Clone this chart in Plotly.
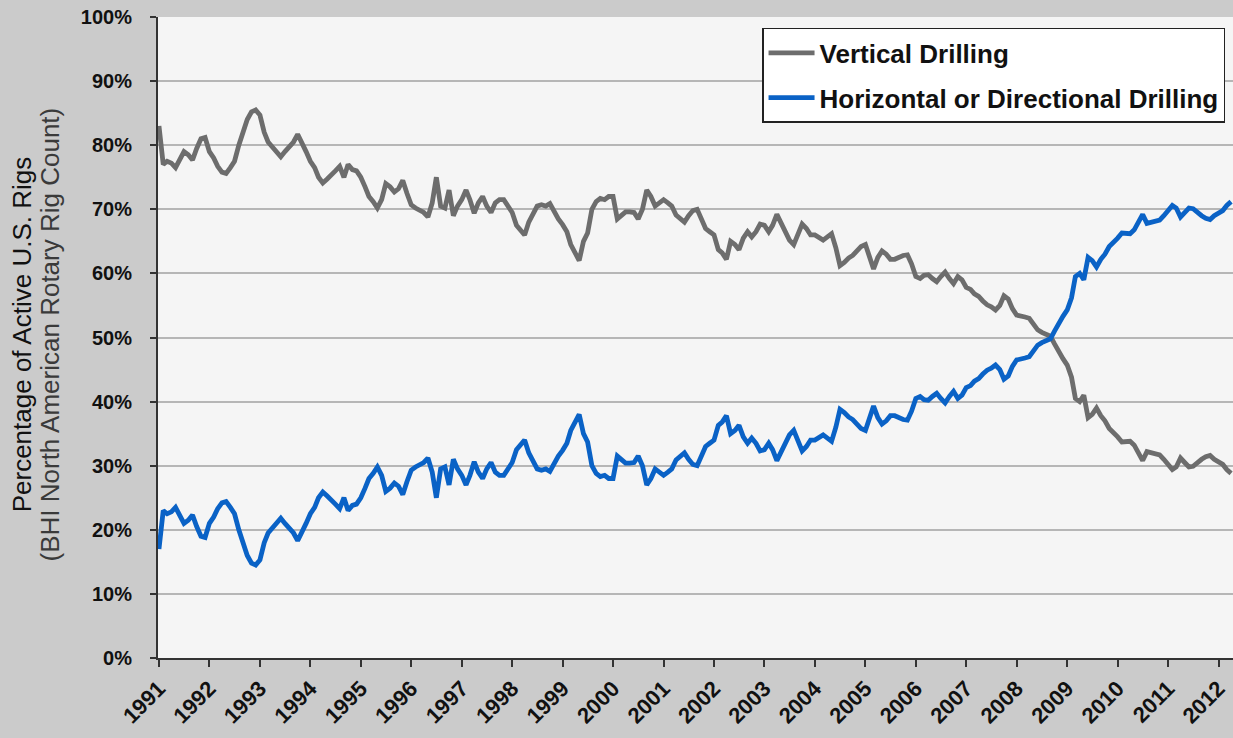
import pandas as pd
import plotly.graph_objects as go

# Monthly share of active US rigs (%), Jan 1991 .. Apr 2012
HORIZONTAL = [
    17, 23, 22.5, 22.8, 23.5, 22, 21, 21.5, 22.3, 20.5, 19, 18.8,            # 1991
    21, 22, 23.3, 24.2, 24.4, 23.5, 22.5, 20, 18, 16, 14.8, 14.5,            # 1992
    15.3, 18, 19.5, 20.2, 21, 21.8, 21, 20.2, 19.5, 18.3, 19.5, 21,          # 1993
    22.5, 23.5, 25, 25.9, 25.3, 24.5, 24, 23.3, 25, 23, 23.8, 24,            # 1994
    25, 26.5, 28, 28.8, 29.8, 28.5, 26, 26.5, 27.3, 26.8, 25.5, 27.5,        # 1995
    29.3, 29.8, 30.2, 30.5, 31.2, 29, 25, 29.5, 29.8, 27, 31, 29.5,          # 1996
    28.5, 27, 28.5, 30.6, 29, 28, 29.5, 30.5, 29, 28.5, 28.5, 29.5,          # 1997
    30.5, 32.5, 33.2, 34, 32, 30.5, 29.5, 29.3, 29.5, 29.1, 30.5, 31.5,      # 1998
    32.4, 33.5, 35.5, 37, 38, 35, 33.7, 30, 28.8, 28.3, 28.5, 28,            # 1999
    28, 31.5, 31, 30.4, 30.4, 30.5, 31.5, 30, 27, 28, 29.5, 29,              # 2000
    28.5, 29, 29.5, 30.9, 31.5, 32, 31, 30.2, 30, 31.5, 33, 33.5,            # 2001
    34, 36.3, 36.8, 37.8, 35, 35.5, 36.3, 34.5, 33.5, 34.3, 33.5, 32.3,      # 2002
    32.5, 33.5, 32.5, 30.8, 32, 33.5, 34.8, 35.5, 34, 32.3, 33, 34,          # 2003
    34, 34.5, 34.8, 34.3, 33.8, 36, 38.8, 38.3, 37.6, 37.2, 36.5, 35.8,      # 2004
    35.5, 37.5, 39.3, 37.5, 36.5, 37, 37.8, 37.8, 37.4, 37.2, 37.1, 38.5,    # 2005
    40.5, 40.8, 40.3, 40.2, 40.8, 41.3, 40.5, 39.8, 40.8, 41.6, 40.5, 41,    # 2006
    42.2, 42.5, 43.2, 43.6, 44.3, 44.9, 45.2, 45.7, 45, 43.5, 44, 45.5,      # 2007
    46.5, 46.6, 46.8, 47, 47.8, 48.8, 49.2, 49.5, 49.8, 51, 52, 53.3,        # 2008
    54.3, 56.2, 59.5, 60, 59, 62.5, 62, 61, 62.2, 63, 64.2, 64.8,            # 2009
    65.5, 66.3, 66.2, 66.2, 66.8, 68, 69.2, 67.8, 68, 68.2, 68.3, 69,        # 2010
    69.8, 70.6, 70.2, 68.8, 69.5, 70.2, 70.1, 69.5, 69, 68.6, 68.4, 69,      # 2011
    69.5, 69.8, 70.6, 71.2,                                                  # 2012
]

VERTICAL = [
    83, 77, 77.5, 77.2, 76.5, 78, 79, 78.5, 77.7, 79.5, 81, 81.2,            # 1991
    79, 78, 76.7, 75.8, 75.6, 76.5, 77.5, 80, 82, 84, 85.2, 85.5,            # 1992
    84.7, 82, 80.5, 79.8, 79, 78.2, 79, 79.8, 80.5, 81.7, 80.5, 79,          # 1993
    77.5, 76.5, 75, 74.1, 74.7, 75.5, 76, 76.7, 75, 77, 76.2, 76,            # 1994
    75, 73.5, 72, 71.2, 70.2, 71.5, 74, 73.5, 72.7, 73.2, 74.5, 72.5,        # 1995
    70.7, 70.2, 69.8, 69.5, 68.8, 71, 75, 70.5, 70.2, 73, 69, 70.5,          # 1996
    71.5, 73, 71.5, 69.4, 71, 72, 70.5, 69.5, 71, 71.5, 71.5, 70.5,          # 1997
    69.5, 67.5, 66.8, 66, 68, 69.5, 70.5, 70.7, 70.5, 70.9, 69.5, 68.5,      # 1998
    67.6, 66.5, 64.5, 63, 62, 65, 66.3, 70, 71.2, 71.7, 71.5, 72,            # 1999
    72, 68.5, 69, 69.6, 69.6, 69.5, 68.5, 70, 73, 72, 70.5, 71,              # 2000
    71.5, 71, 70.5, 69.1, 68.5, 68, 69, 69.8, 70, 68.5, 67, 66.5,            # 2001
    66, 63.7, 63.2, 62.2, 65, 64.5, 63.7, 65.5, 66.5, 65.7, 66.5, 67.7,      # 2002
    67.5, 66.5, 67.5, 69.2, 68, 66.5, 65.2, 64.5, 66, 67.7, 67, 66,          # 2003
    66, 65.5, 65.2, 65.7, 66.2, 64, 61.2, 61.7, 62.4, 62.8, 63.5, 64.2,      # 2004
    64.5, 62.5, 60.7, 62.5, 63.5, 63, 62.2, 62.2, 62.6, 62.8, 62.9, 61.5,    # 2005
    59.5, 59.2, 59.7, 59.8, 59.2, 58.7, 59.5, 60.2, 59.2, 58.4, 59.5, 59,    # 2006
    57.8, 57.5, 56.8, 56.4, 55.7, 55.1, 54.8, 54.3, 55, 56.5, 56, 54.5,      # 2007
    53.5, 53.4, 53.2, 53, 52.2, 51.2, 50.8, 50.5, 50.2, 49, 48, 46.7,        # 2008
    45.7, 43.8, 40.5, 40, 41, 37.5, 38, 39, 37.8, 37, 35.8, 35.2,            # 2009
    34.5, 33.7, 33.8, 33.8, 33.2, 32, 30.8, 32.2, 32, 31.8, 31.7, 31,        # 2010
    30.2, 29.4, 29.8, 31.2, 30.5, 29.8, 29.9, 30.5, 31, 31.4, 31.6, 31,      # 2011
    30.5, 30.2, 29.4, 28.8,                                                  # 2012
]

DATES = pd.date_range("1991-01-01", periods=len(HORIZONTAL), freq="MS")
YEARS = [str(y) for y in range(1991, 2013)]
YEAR_TICKS = [f"{y}-01-01" for y in YEARS]
SERIES_NAMES = ["Vertical Drilling", "Horizontal or Directional Drilling"]

FONT = "Arial, Liberation Sans, sans-serif"

fig = go.Figure()
fig.add_trace(go.Scatter(
    x=DATES, y=VERTICAL, mode="lines", name=SERIES_NAMES[0],
    line=dict(color="#6d6d6d", width=4.8), legendgroup="v",
))
fig.add_trace(go.Scatter(
    x=DATES, y=HORIZONTAL, mode="lines", name=SERIES_NAMES[1],
    line=dict(color="#0a62c6", width=4.8), legendgroup="h",
))

fig.update_layout(
    width=1233, height=738,
    margin=dict(l=158, r=0, t=17, b=80),
    paper_bgcolor="#cbcbcb",
    plot_bgcolor="#f5f5f5",
    showlegend=True,
    legend=dict(
        x=0.9926, xanchor="right", y=0.983, yanchor="top",
        bgcolor="white", bordercolor="#222222", borderwidth=1.5,
        font=dict(family=FONT, size=26, color="#111111", weight="bold"),
        itemwidth=46, tracegroupgap=8, traceorder="grouped",
    ),
    xaxis=dict(
        type="date",
        range=["1990-12-25", "2012-04-15"],
        tickmode="array", tickvals=YEAR_TICKS, ticktext=YEARS,
        tickangle=-45,
        tickfont=dict(family=FONT, size=22, color="#111111", weight="bold"),
        ticks="outside", ticklen=7, tickwidth=1.5, tickcolor="#333333",
        showline=True, linecolor="#333333", linewidth=2,
        showgrid=False, zeroline=False,
    ),
    yaxis=dict(
        range=[0, 100], dtick=10, ticksuffix="%",
        tickfont=dict(family=FONT, size=20, color="#111111", weight="bold"),
        ticks="outside", ticklen=6, tickwidth=1.5, tickcolor="#333333",
        ticklabelstandoff=14,
        showline=True, linecolor="#333333", linewidth=2,
        showgrid=True, gridcolor="#b6b6b6", gridwidth=1.5,
        zeroline=False,
    ),
    annotations=[
        dict(text="Percentage of Active U.S. Rigs", textangle=-90,
             xref="paper", yref="paper", x=-0.1265, y=0.505,
             xanchor="center", yanchor="middle", showarrow=False,
             font=dict(family=FONT, size=26, color="#111111")),
        dict(text="(BHI North American Rotary Rig Count)", textangle=-90,
             xref="paper", yref="paper", x=-0.1003, y=0.505,
             xanchor="center", yanchor="middle", showarrow=False,
             font=dict(family=FONT, size=26, color="#3a3a3a")),
    ],
)

fig.write_html(
    "out.html",
    config={"displayModeBar": False},
    post_script="document.body.style.margin='0';document.body.style.overflow='hidden';",
)
